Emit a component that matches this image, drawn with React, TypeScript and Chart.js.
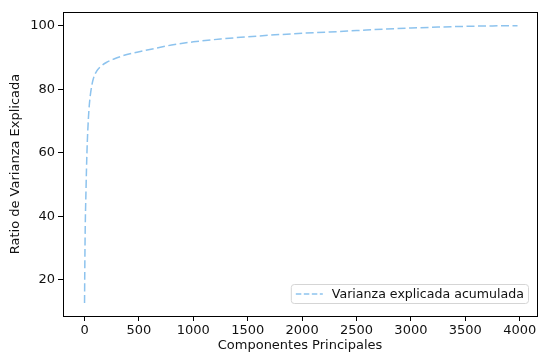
import React, { useEffect, useRef } from "react";
import { Chart, registerables } from "chart.js";

Chart.register(...registerables);

const components = [0, 2, 5, 8, 12, 18, 25, 35, 45, 60, 80, 110, 150, 200, 270, 350, 450, 600, 800, 1000, 1250, 1500, 1750, 2000, 2250, 2500, 2750, 3000, 3250, 3500, 3750, 3980];
const cumulativeVariance = [12.7, 22, 33, 40, 46, 55, 63, 70.5, 75.5, 79.8, 83.2, 85.6, 87.2, 88.4, 89.5, 90.5, 91.4, 92.5, 93.9, 94.9, 95.8, 96.5, 97.1, 97.6, 98.0, 98.45, 98.9, 99.25, 99.55, 99.78, 99.93, 100];
const xTicks = [0, 500, 1000, 1500, 2000, 2500, 3000, 3500, 4000];
const yTicks = [20, 40, 60, 80, 100];
const seriesLabel = "Varianza explicada acumulada";
const xTitle = "Componentes Principales";
const yTitle = "Ratio de Varianza Explicada";

const LINE_COLOR = "#8dc3ee";
const FONT = "'DejaVu Sans', sans-serif";
const FS = 13;
const LEGEND_FS = 12.6;

const framePlugin = {
  id: "frame",
  afterDraw(chart: any) {
    const { ctx, chartArea } = chart;
    const { left, right, top, bottom } = chartArea;
    ctx.save();
    ctx.strokeStyle = "#000";
    ctx.lineWidth = 1;
    ctx.strokeRect(Math.round(left) + 0.5, Math.round(top) + 0.5, Math.round(right - left), Math.round(bottom - top));
    // legend
    ctx.font = LEGEND_FS + "px " + FONT;
    const tw = ctx.measureText(seriesLabel).width;
    const boxR = right - 9;
    const boxB = bottom - 13;
    const boxH = 19;
    const boxW = tw + 45;
    const boxL = boxR - boxW;
    const boxT = boxB - boxH;
    ctx.fillStyle = "rgba(255,255,255,0.8)";
    ctx.strokeStyle = "#d5d5d5";
    ctx.beginPath();
    (ctx as any).roundRect(boxL + 0.5, boxT + 0.5, boxW, boxH, 3);
    ctx.fill();
    ctx.stroke();
    ctx.strokeStyle = LINE_COLOR;
    ctx.lineWidth = 1.5;
    ctx.setLineDash([5.5, 2.5]);
    ctx.beginPath();
    ctx.moveTo(boxL + 5, boxT + boxH / 2 + 0.5);
    ctx.lineTo(boxL + 32, boxT + boxH / 2 + 0.5);
    ctx.stroke();
    ctx.setLineDash([]);
    ctx.fillStyle = "#111";
    ctx.textBaseline = "middle";
    ctx.textAlign = "left";
    ctx.fillText(seriesLabel, boxL + 41, boxT + boxH / 2 + 1);
    ctx.restore();
  },
};

export default function App() {
  const ref = useRef<HTMLCanvasElement>(null);
  useEffect(() => {
    document.body.style.margin = "0";
    const chart = new Chart(ref.current!, {
      type: "line",
      data: {
        datasets: [
          {
            label: seriesLabel,
            data: components.map((c, i) => ({ x: c, y: cumulativeVariance[i] })),
            borderColor: LINE_COLOR,
            borderWidth: 1.5,
            borderDash: [8, 3.5],
            pointRadius: 0,
            fill: false,
            cubicInterpolationMode: "monotone",
          },
        ],
      },
      options: {
        responsive: false,
        animation: false,
        layout: { padding: { top: 12, right: 2, left: 0, bottom: 0 } },
        plugins: { legend: { display: false }, tooltip: { enabled: false } },
        scales: {
          x: {
            type: "linear",
            min: -198,
            max: 4159,
            afterBuildTicks: (s: any) => {
              s.ticks = xTicks.map((v) => ({ value: v }));
            },
            afterFit: (s: any) => {
              s.height = 38;
            },
            grid: { drawOnChartArea: false, drawTicks: true, tickLength: 5, color: "#000" },
            border: { display: true, color: "#000" },
            ticks: {
              color: "#111",
              font: { family: FONT, size: FS },
              padding: 2,
              maxRotation: 0,
              autoSkip: false,
              callback: (v: any) => String(v),
            },
            title: { display: true, text: xTitle, color: "#111", font: { family: FONT, size: FS }, padding: { top: 0, bottom: 1 } },
          },
          y: {
            type: "linear",
            min: 8.6,
            max: 104.3,
            afterBuildTicks: (s: any) => {
              s.ticks = yTicks.map((v) => ({ value: v }));
            },
            afterFit: (s: any) => {
              s.width = 63;
            },
            grid: { drawOnChartArea: false, drawTicks: true, tickLength: 5, color: "#000" },
            border: { display: true, color: "#000" },
            ticks: { color: "#111", font: { family: FONT, size: FS }, padding: 3, callback: (v: any) => String(v) },
            title: { display: true, text: yTitle, color: "#111", font: { family: FONT, size: FS }, padding: { top: 8, bottom: 0 } },
          },
        },
      },
      plugins: [framePlugin],
    });
    return () => chart.destroy();
  }, []);
  return (
    <div style={{ position: "absolute", left: 0, top: 0, width: 539, height: 354 }}>
      <canvas ref={ref} width={539} height={354} />
    </div>
  );
}
